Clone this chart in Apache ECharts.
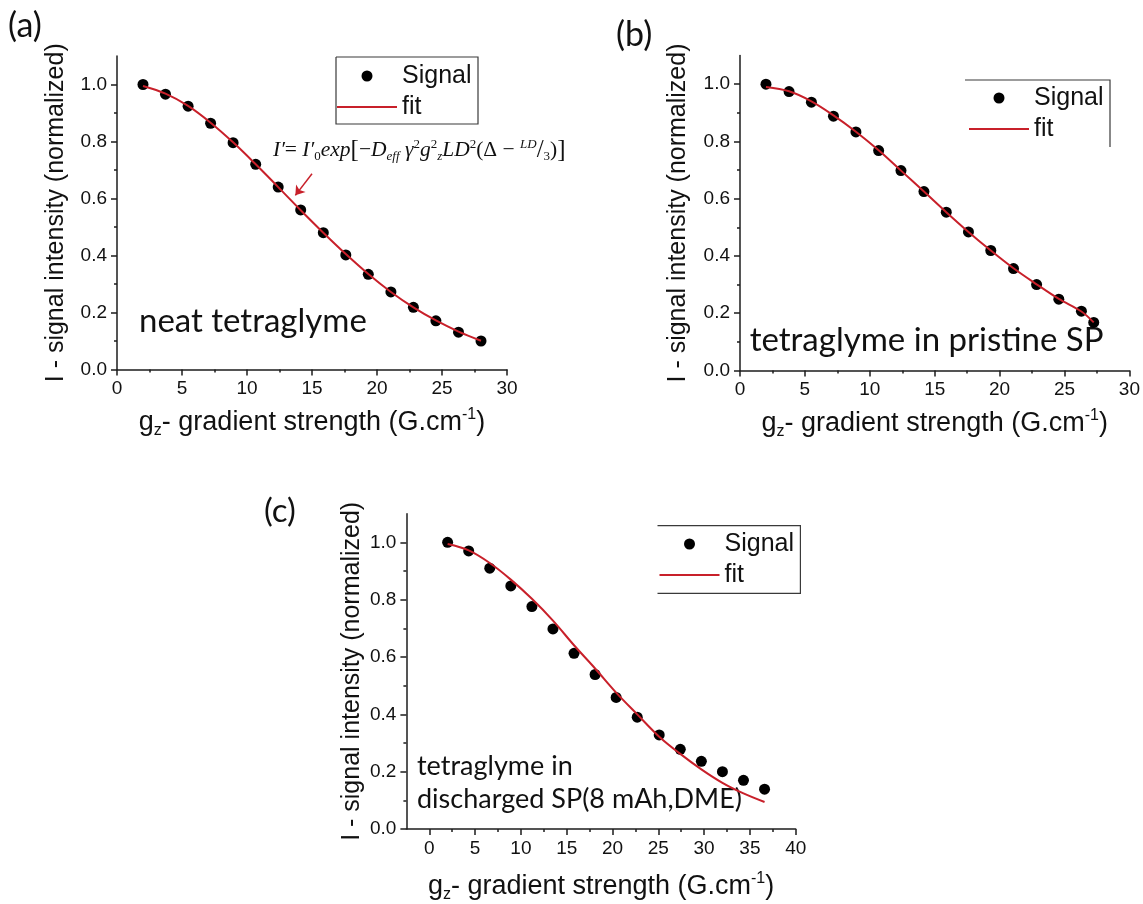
<!DOCTYPE html>
<html>
<head>
<meta charset="utf-8">
<script src="https://cdn.jsdelivr.net/npm/echarts@6/dist/echarts.min.js"></script>
<style>
  html, body { margin: 0; padding: 0; background: #ffffff; }
  #chart { width: 1143px; height: 904px; }
</style>
</head>
<body>
<div id="chart"></div>
<script>
// PFG-NMR diffusion decay: normalised signal vs gradient strength g_z, three samples

// (a) neat tetraglyme
const gA = [2, 3.73, 5.47, 7.2, 8.93, 10.67, 12.4, 14.13, 15.87, 17.6, 19.33, 21.07, 22.8, 24.53, 26.27, 28];
const signalA = [1.0, 0.966, 0.924, 0.864, 0.796, 0.72, 0.64, 0.56, 0.48, 0.402, 0.334, 0.272, 0.218, 0.171, 0.131, 0.1];
const fitA = [0.995, 0.968, 0.925, 0.866, 0.797, 0.72, 0.64, 0.559, 0.48, 0.405, 0.335, 0.272, 0.218, 0.172, 0.133, 0.101];

// (b) tetraglyme in pristine SP
const gB = [2, 3.78, 5.5, 7.2, 8.93, 10.68, 12.4, 14.17, 15.89, 17.6, 19.32, 21.07, 22.85, 24.56, 26.3, 27.25];
const signalB = [1.0, 0.974, 0.937, 0.888, 0.833, 0.768, 0.698, 0.625, 0.553, 0.484, 0.419, 0.356, 0.3, 0.249, 0.207, 0.168];
const fitB = [0.99, 0.975, 0.94, 0.891, 0.834, 0.769, 0.698, 0.625, 0.553, 0.484, 0.419, 0.357, 0.301, 0.25, 0.206, 0.168];

// (c) tetraglyme in discharged SP (8 mAh, DME)
const gC = [2.0, 4.3, 6.6, 8.9, 11.2, 13.5, 15.8, 18.1, 20.4, 22.7, 25.1, 27.4, 29.7, 32.0, 34.3, 36.6];
const signalC = [1.0, 0.97, 0.91, 0.848, 0.776, 0.698, 0.613, 0.539, 0.459, 0.39, 0.328, 0.278, 0.236, 0.2, 0.17, 0.139];
const fitC = [0.994, 0.972, 0.928, 0.87, 0.803, 0.727, 0.641, 0.56, 0.476, 0.4, 0.322, 0.262, 0.208, 0.161, 0.124, 0.094];

// tick positions
const yTicks = [0, 0.2, 0.4, 0.6, 0.8, 1.0];
const yMinorTicks = [0.1, 0.3, 0.5, 0.7, 0.9];
const xTicksAB = [0, 5, 10, 15, 20, 25, 30];
const xMinorAB = [2.5, 7.5, 12.5, 17.5, 22.5, 27.5];
const xTicksC = [0, 5, 10, 15, 20, 25, 30, 35, 40];
const xMinorC = [2.5, 7.5, 12.5, 17.5, 22.5, 27.5, 32.5, 37.5];

const panelLabels = ['(a)', '(b)', '(c)'];
const sampleTextA = 'neat tetraglyme';
const sampleTextB = 'tetraglyme in pristine SP';
const sampleTextC = ['tetraglyme in', 'discharged SP(8 mAh,DME)'];
const yTitle = 'I - signal intensity (normalized)';
const legendNames = ['Signal', 'fit'];

const RED = '#c8202a';
const INK = '#111111';
const AXIS = '#1c1c1c';
const SANS = 'Liberation Sans, Arial, sans-serif';
const HUMAN = 'Lato, Open Sans, sans-serif';
const SERIF = 'Liberation Serif, DejaVu Serif, serif';

const pairs = (xs, ys) => xs.map((x, i) => [x, ys[i]]);

const xName = '{t|g}{s|z}{t|- gradient strength (G.cm}{p|-1}{t|)}';
const xNameRich = {
  t: { fontSize: 27, lineHeight: 32, fontFamily: SANS, color: INK },
  s: { fontSize: 16, lineHeight: 13, fontFamily: SANS, color: INK, verticalAlign: 'bottom' },
  p: { fontSize: 16, lineHeight: 13, fontFamily: SANS, color: INK, verticalAlign: 'top' }
};

function xMajor(grid, min, max, ticks, gap) {
  return {
    type: 'value', gridIndex: grid, min: min, max: max, position: 'bottom',
    axisLine: { onZero: false, lineStyle: { color: AXIS, width: 1.5 } },
    axisTick: { show: true, inside: false, length: 6, customValues: ticks, lineStyle: { color: AXIS, width: 1.5 } },
    axisLabel: { customValues: ticks, margin: 10, fontSize: 19, fontFamily: SANS, color: INK },
    splitLine: { show: false },
    name: xName, nameLocation: 'middle', nameGap: gap,
    nameTextStyle: { rich: xNameRich }
  };
}
function xMinor(grid, min, max, ticks) {
  return {
    type: 'value', gridIndex: grid, min: min, max: max, position: 'bottom',
    axisLine: { show: false, onZero: false },
    axisTick: { show: true, inside: false, length: 3, customValues: ticks, lineStyle: { color: AXIS, width: 1.5 } },
    axisLabel: { show: false }, splitLine: { show: false }
  };
}
function yMajor(grid, gap) {
  return {
    type: 'value', gridIndex: grid, min: 0, max: 1.1, position: 'left',
    axisLine: { onZero: false, lineStyle: { color: AXIS, width: 1.5 } },
    axisTick: { show: true, inside: false, length: 6, customValues: yTicks, lineStyle: { color: AXIS, width: 1.5 } },
    axisLabel: { customValues: yTicks, margin: 10, fontSize: 19, fontFamily: SANS, color: INK,
                 formatter: v => v.toFixed(1) },
    splitLine: { show: false },
    name: yTitle, nameLocation: 'middle', nameGap: gap,
    nameTextStyle: { fontSize: 25, fontFamily: SANS, color: INK }
  };
}
function yMinor(grid) {
  return {
    type: 'value', gridIndex: grid, min: 0, max: 1.1, position: 'left',
    axisLine: { show: false, onZero: false },
    axisTick: { show: true, inside: false, length: 3, customValues: yMinorTicks, lineStyle: { color: AXIS, width: 1.5 } },
    axisLabel: { show: false }, splitLine: { show: false }
  };
}

function signalSeries(axisIdx, xs, ys) {
  return {
    name: legendNames[0], type: 'scatter', xAxisIndex: axisIdx, yAxisIndex: axisIdx,
    data: pairs(xs, ys), symbol: 'circle', symbolSize: 11,
    itemStyle: { color: '#000000', opacity: 1 }, z: 2, silent: true
  };
}
function fitSeries(axisIdx, xs, ys, extra) {
  return Object.assign({
    name: legendNames[1], type: 'line', xAxisIndex: axisIdx, yAxisIndex: axisIdx,
    data: pairs(xs, ys), smooth: 0.35, symbol: 'none', showSymbol: false,
    lineStyle: { color: RED, width: 2 }, itemStyle: { color: RED }, z: 3, silent: true
  }, extra || {});
}

function legendAt(left, top) {
  return {
    orient: 'vertical', left: left, top: top, padding: 0, itemGap: 1,
    itemWidth: 60, itemHeight: 11, selectedMode: false,
    textStyle: { fontSize: 25, lineHeight: 30, fontFamily: SANS, color: INK },
    data: [
      { name: legendNames[0], icon: 'circle', itemStyle: { color: '#000000', opacity: 1 } },
      { name: legendNames[1], icon: 'path://M0,0L60,0L60,2L0,2Z' }
    ]
  };
}

function label(x, y, text, size, family) {
  return {
    type: 'text', x: x, y: y, silent: true,
    style: { text: text, fontSize: size, fontFamily: family, fill: INK,
             align: 'left', textAlign: 'left', verticalAlign: 'middle', textVerticalAlign: 'middle' }
  };
}
function frame(points) {
  return {
    type: 'polyline', silent: true,
    shape: { points: points },
    style: { stroke: '#3a3a3a', lineWidth: 1.2, fill: null }
  };
}

// Stejskal–Tanner type expression used for the fit
const formulaRich = {
  i: { fontSize: 21.5, fontFamily: SERIF, fontStyle: 'italic', fill: INK },
  u: { fontSize: 21.5, fontFamily: SERIF, fill: INK },
  b: { fontSize: 25, fontFamily: SERIF, fill: INK },
  sb: { fontSize: 13, fontFamily: SERIF, fontStyle: 'italic', fill: INK, verticalAlign: 'bottom', lineHeight: 12 },
  sp: { fontSize: 13, fontFamily: SERIF, fontStyle: 'italic', fill: INK, verticalAlign: 'top', lineHeight: 12 },
  su: { fontSize: 13, fontFamily: SERIF, fill: INK, verticalAlign: 'bottom', lineHeight: 12 },
  pu: { fontSize: 13, fontFamily: SERIF, fill: INK, verticalAlign: 'top', lineHeight: 12 }
};
const formulaText =
  '{i|I′}{u|= }{i|I′}{su|0}{i|exp}{b|[}{u|−}{i|D}{sb|eff}{i| γ}{pu|2}{i|g}{pu|2}{sb|z}{i|LD}{pu|2}{u|(Δ − }{sp|LD}{b|/}{su|3}{u|)}{b|]}';

const option = {
  backgroundColor: '#ffffff',
  animation: false,
  grid: [
    { left: 117, top: 56, width: 390, height: 313.5 },
    { left: 740, top: 55.5, width: 390, height: 315 },
    { left: 406.4, top: 513.7, width: 389.3, height: 316.3 }
  ],
  xAxis: [
    xMajor(0, 0, 30, xTicksAB, 37),
    xMajor(1, 0, 30, xTicksAB, 37),
    xMajor(2, -2.5, 40, xTicksC, 42),
    xMinor(0, 0, 30, xMinorAB),
    xMinor(1, 0, 30, xMinorAB),
    xMinor(2, -2.5, 40, xMinorC)
  ],
  yAxis: [
    yMajor(0, 48), yMajor(1, 49), yMajor(2, 42),
    yMinor(0), yMinor(1), yMinor(2)
  ],
  legend: [legendAt(337, 61), legendAt(969, 83), legendAt(659.5, 529)],
  series: [
    signalSeries(0, gA, signalA),
    fitSeries(0, gA, fitA, {
      markLine: {
        silent: true, symbol: ['none', 'arrow'], symbolSize: 9,
        lineStyle: { color: RED, width: 1.5, type: 'solid' },
        label: { show: false },
        data: [[{ coord: [15.0, 0.687] }, { coord: [13.72, 0.611] }]]
      }
    }),
    signalSeries(1, gB, signalB),
    fitSeries(1, gB, fitB),
    signalSeries(2, gC, signalC),
    fitSeries(2, gC, fitC)
  ],
  graphic: [
    label(8, 26, panelLabels[0], 34, HUMAN),
    label(616, 35, panelLabels[1], 34, HUMAN),
    label(264, 511, panelLabels[2], 33, HUMAN),
    label(139, 321.7, sampleTextA, 33, HUMAN),
    label(749.7, 340, sampleTextB, 33, HUMAN),
    label(417, 766.6, sampleTextC[0], 27, HUMAN),
    label(417, 799.6, sampleTextC[1], 27, HUMAN),
    {
      type: 'text', x: 273, y: 150.7, silent: true,
      style: { text: formulaText, rich: formulaRich, fill: INK,
               align: 'left', textAlign: 'left', verticalAlign: 'middle', textVerticalAlign: 'middle' }
    },
    frame([[336, 57], [478, 57], [478, 124], [336, 124], [336, 57]]),
    frame([[965, 80], [1110, 80], [1110, 147]]),
    frame([[657.5, 525.7], [800.4, 525.7], [800.4, 593.3], [657.5, 593.3]])
  ]
};

const chart = echarts.init(document.getElementById('chart'), null, { renderer: 'canvas' });
chart.setOption(option);
</script>
</body>
</html>
